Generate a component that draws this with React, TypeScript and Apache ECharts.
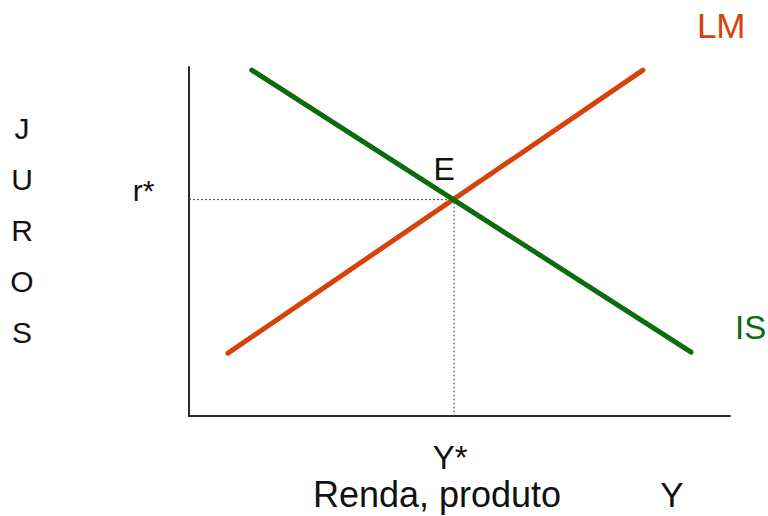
import React, { useEffect, useRef } from "react";
import * as echarts from "echarts";

// Curve endpoints in axis units (x: income/product, y: interest rate), 0..100 scale
const lmPoints: [number, number][] = [
  [7.2, 18.0],
  [83.9, 99.1],
];
const isPoints: [number, number][] = [
  [11.6, 99.1],
  [92.8, 18.3],
];
const equilibrium: [number, number] = [49, 62];
const curveNames = ["LM", "IS"];
const yAxisLetters = ["J", "U", "R", "O", "S"];
const xAxisTitle = "Renda, produto";
const xAxisSymbol = "Y";
const eqLabels = { point: "E", rate: "r*", income: "Y*" };

const FONT = "'Liberation Sans', Arial, Helvetica, sans-serif";
const RED = "#d6420a";
const GREEN = "#0c6b0c";
const INK = "#111111";

export default function App() {
  const ref = useRef<HTMLDivElement>(null);
  useEffect(() => {
    if (!ref.current) return;
    const chart = echarts.init(ref.current, undefined, { renderer: "svg" });
    const [ex, ey] = equilibrium;
    const option: echarts.EChartsOption = {
      animation: false,
      backgroundColor: "#ffffff",
      textStyle: { fontFamily: FONT },
      grid: { left: 189, right: 38, top: 67, bottom: 100 },
      xAxis: {
        type: "value",
        min: 0,
        max: 100,
        axisLine: { show: true, lineStyle: { color: "#2a2a2a", width: 2 } },
        axisTick: { show: false },
        axisLabel: { show: false },
        splitLine: { show: false },
      },
      yAxis: {
        type: "value",
        min: 0,
        max: 100,
        axisLine: { show: true, lineStyle: { color: "#2a2a2a", width: 2 } },
        axisTick: { show: false },
        axisLabel: { show: false },
        splitLine: { show: false },
      },
      series: [
        {
          type: "line",
          name: "guides",
          data: [[0, ey], [ex, ey], [ex, 0]],
          symbol: "none",
          lineStyle: { color: "#444", width: 1, type: [2, 2] },
          z: 1,
        },
        {
          type: "line",
          name: curveNames[0],
          data: lmPoints,
          symbol: "none",
          lineStyle: { color: RED, width: 5, cap: "round" },
          endLabel: {
            show: true,
            formatter: curveNames[0],
            color: RED,
            fontSize: 35,
            fontFamily: FONT,
            offset: [46, -45],
          },
          z: 3,
        },
        {
          type: "line",
          name: curveNames[1],
          data: isPoints,
          symbol: "none",
          lineStyle: { color: GREEN, width: 5, cap: "round" },
          endLabel: {
            show: true,
            formatter: curveNames[1],
            color: GREEN,
            fontSize: 33,
            fontFamily: FONT,
            offset: [36, -25],
          },
          z: 4,
        },
        {
          type: "scatter",
          name: "labels",
          symbol: "circle",
          symbolSize: 1,
          itemStyle: { color: "rgba(255,255,255,0)", opacity: 1 },
          silent: true,
          data: [
            {
              value: equilibrium,
              label: {
                show: true,
                formatter: eqLabels.point,
                position: "top",
                distance: 14,
                offset: [-10, 0],
                fontSize: 32,
                color: INK,
                opacity: 1,
                fontFamily: FONT,
              },
            },
            {
              value: [0, ey],
              label: {
                show: true,
                formatter: eqLabels.rate,
                position: "left",
                distance: 34,
                offset: [0, -9],
                fontSize: 30,
                color: INK,
                opacity: 1,
                fontFamily: FONT,
              },
            },
            {
              value: [ex, 0],
              label: {
                show: true,
                formatter: eqLabels.income,
                position: "bottom",
                distance: 24,
                offset: [-4, 0],
                fontSize: 33,
                color: INK,
                opacity: 1,
                fontFamily: FONT,
              },
            },
          ],
          z: 5,
        },
      ],
      graphic: [
        ...yAxisLetters.map((ch, i) => ({
          type: "text" as const,
          x: 22,
          y: 128 + i * 51,
          style: {
            text: ch,
            fontSize: 30,
            fontFamily: FONT,
            fill: INK,
            textAlign: "center" as const,
            textVerticalAlign: "middle" as const,
          },
        })),
        {
          type: "text",
          x: 437,
          y: 494,
          style: {
            text: xAxisTitle,
            fontSize: 36,
            fontFamily: FONT,
            fill: INK,
            textAlign: "center",
            textVerticalAlign: "middle",
          },
        },
        {
          type: "text",
          x: 672,
          y: 494,
          style: {
            text: xAxisSymbol,
            fontSize: 35,
            fontFamily: FONT,
            fill: INK,
            textAlign: "center",
            textVerticalAlign: "middle",
          },
        },
      ],
    };
    chart.setOption(option);
    return () => chart.dispose();
  }, []);
  return (
    <div
      ref={ref}
      style={{ position: "fixed", left: 0, top: 0, width: 768, height: 516, background: "#fff" }}
    />
  );
}
